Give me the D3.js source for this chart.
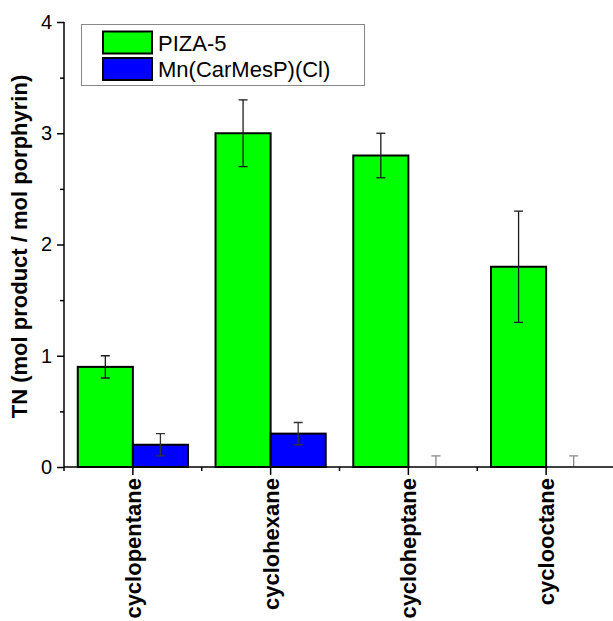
<!DOCTYPE html>
<html><head><meta charset="utf-8">
<script src="https://cdn.jsdelivr.net/npm/d3@7"></script>
<style>body{margin:0;background:#fff}svg{display:block}text{font-family:"Liberation Sans",Arial,sans-serif}</style>
</head><body>
<script>
const categories = ["cyclopentane","cyclohexane","cycloheptane","cyclooctane"];
const seriesNames = ["PIZA-5","Mn(CarMesP)(Cl)"];
const pizaValues = [0.9, 3.0, 2.8, 1.8];
const pizaErrors = [0.1, 0.3, 0.2, 0.5];
const mnValues = [0.2, 0.3, 0, 0];
const mnErrors = [0.1, 0.1, 0.1, 0.1];
const yTicks = [0, 1, 2, 3, 4];
const yMinorTicks = [0.5, 1.5, 2.5, 3.5];
const colors = ["#00ff00", "#0000ff"];

const W = 613, H = 621;
const svg = d3.select("body").append("svg").attr("width", W).attr("height", H);
const x0 = 64, xEnd = 615, yTop = 22, yBot = 467;
const x = d3.scaleBand().domain(categories).range([x0, xEnd]).paddingInner(0).paddingOuter(0);
const y = d3.scaleLinear().domain([0, 4]).range([yBot, yTop]);
const xs = d3.scaleBand().domain(seriesNames).range([0, x.bandwidth()]).paddingInner(0).paddingOuter(0.25);

const series = [
  {name: seriesNames[0], vals: pizaValues, errs: pizaErrors, color: colors[0], ecol: "#1a1a1a"},
  {name: seriesNames[1], vals: mnValues, errs: mnErrors, color: colors[1], ecol: "#333"}
];

svg.append("defs").append("clipPath").attr("id","plot").append("rect")
  .attr("x", x0).attr("y", 0).attr("width", W).attr("height", yBot - 0.5);

series.forEach(s => {
  const g = svg.append("g");
  categories.forEach((c, i) => {
    const bx = x(c) + xs(s.name), bw = xs.bandwidth();
    if (s.vals[i] > 0) {
      g.append("rect").attr("x", bx).attr("y", y(s.vals[i])).attr("width", bw)
        .attr("height", y(0) - y(s.vals[i])).attr("fill", s.color)
        .attr("stroke", "#000").attr("stroke-width", 2);
    }
  });
});
series.forEach(s => {
  const g = svg.append("g").attr("clip-path", "url(#plot)").attr("stroke-width", 1.3);
  categories.forEach((c, i) => {
    const cx = x(c) + xs(s.name) + xs.bandwidth() / 2;
    const hi = y(s.vals[i] + s.errs[i]), lo = y(s.vals[i] - s.errs[i]);
    const col = s.vals[i] === 0 ? "#888" : s.ecol;
    g.append("line").attr("x1", cx).attr("x2", cx).attr("y1", hi).attr("y2", lo).attr("stroke", col);
    g.append("line").attr("x1", cx - 4.5).attr("x2", cx + 4.5).attr("y1", hi).attr("y2", hi).attr("stroke", col);
    g.append("line").attr("x1", cx - 4.5).attr("x2", cx + 4.5).attr("y1", lo).attr("y2", lo).attr("stroke", col);
  });
});

// Y axis
const yAxis = d3.axisLeft(y).tickValues(yTicks).tickSize(7).tickPadding(5).tickFormat(d3.format("d"));
const yg = svg.append("g").attr("transform", `translate(${x0},0)`).call(yAxis);
yg.select(".domain").attr("d", `M0,${yBot}V${yTop}`).attr("stroke-width", 1.5);
yg.selectAll(".tick line").attr("stroke-width", 1.5);
yg.selectAll(".tick text").attr("font-size", 20).attr("font-family", "Liberation Sans, Arial, sans-serif").attr("fill", "#000");
const ygm = svg.append("g").attr("transform", `translate(${x0},0)`)
  .call(d3.axisLeft(y).tickValues(yMinorTicks).tickSize(4).tickFormat(""));
ygm.select(".domain").remove();
ygm.selectAll(".tick line").attr("stroke-width", 1.5);

// X axis
const xAxis = d3.axisBottom(x).tickSize(8).tickPadding(6);
const xg = svg.append("g").attr("transform", `translate(0,${yBot})`).call(xAxis);
xg.select(".domain").attr("d", `M${x0},0H${W}`).attr("stroke-width", 1.5);
xg.selectAll(".tick line").attr("stroke-width", 1.5);
xg.selectAll(".tick text").attr("font-size", 22).attr("font-weight", "bold")
  .attr("font-family", "Liberation Sans, Arial, sans-serif").attr("fill", "#000")
  .attr("transform", "rotate(-90)").attr("text-anchor", "end")
  .attr("x", -11).attr("y", 0).attr("dy", "0.36em");
const boundaries = categories.map(c => x(c));
const xgm = svg.append("g").attr("transform", `translate(0,${yBot})`);
xgm.selectAll("line").data(boundaries).join("line")
  .attr("x1", d => d).attr("x2", d => d).attr("y1", 0).attr("y2", 4)
  .attr("stroke", "#000").attr("stroke-width", 1.5);

// Y label
svg.append("text").attr("transform", `translate(27,${(yTop + yBot) / 2 + 2}) rotate(-90)`)
  .attr("text-anchor", "middle").attr("font-size", 22).attr("font-weight", "bold").text("TN (mol product / mol porphyrin)");

// Legend
const lg = svg.append("g");
lg.append("rect").attr("x", 81.5).attr("y", 24.5).attr("width", 283).attr("height", 61)
  .attr("fill", "#fff").attr("stroke", "#888").attr("stroke-width", 1);
seriesNames.forEach((n, i) => {
  lg.append("rect").attr("x", 103).attr("y", 31.5 + i * 26.5).attr("width", 49).attr("height", 22)
    .attr("fill", colors[i]).attr("stroke", "#000").attr("stroke-width", 2);
  lg.append("text").attr("x", 158).attr("y", 43 + i * 26.5).attr("dy", "0.36em")
    .attr("font-size", 22).text(n);
});
</script>
</body></html>
